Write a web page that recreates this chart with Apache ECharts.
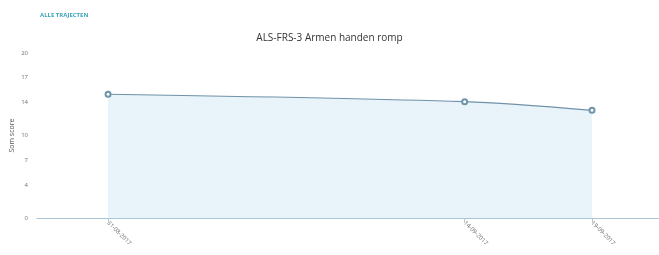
<!DOCTYPE html>
<html lang="nl">
<head>
    <meta charset="UTF-8">
    <title>ALS-FRS-3 Armen handen romp</title>
    <style>
        html, body { margin: 0; padding: 0; background: #fff; }
        #main { width: 659px; height: 255px; }
    </style>
</head>
<body>
    <div id="main"></div>
<script type="text/javascript" src="https://cdn.jsdelivr.net/npm/echarts@6/dist/echarts.min.js"></script>
<script type="text/javascript">
    // data
    var dates = ['2017-08-31', '2017-09-14', '2017-09-19'];
    var dateLabels = ['31-08-2017', '14-09-2017', '19-09-2017'];
    var scores = [15, 14.1, 13.05];
    var yTicks = [0, 4, 7, 10, 14, 17, 20];

    // x in days since the first measurement
    var DAY = 24 * 3600 * 1000;
    var t0 = +new Date(dates[0] + 'T00:00:00Z');
    var days = dates.map(function (d) { return Math.round((+new Date(d + 'T00:00:00Z') - t0) / DAY); });
    var seriesData = days.map(function (x, i) { return [x, scores[i]]; });

    var myChart = echarts.init(document.getElementById('main'));

    var option = {
        animation: false,
        title: [{
            text: 'ALS-FRS-3 Armen handen romp',
            left: 'center',
            top: 28,
            textStyle: { fontFamily: 'Open Sans', fontSize: 10, fontWeight: 'normal', color: '#333' }
        }, {
            text: 'ALLE TRAJECTEN',
            left: 35,
            top: 7,
            textStyle: { fontFamily: 'Open Sans', fontSize: 6, fontWeight: 'bold', color: '#3aa3b8' }
        }],
        grid: { left: 37, right: 0, top: 53, bottom: 37, containLabel: false, outerBoundsMode: 'none' },
        xAxis: {
            type: 'value',
            min: -2.79,
            max: 21.63,
            axisLine: { show: true, onZero: false, lineStyle: { color: '#a9c6da', width: 1 } },
            axisTick: { show: true, customValues: days, length: 5, lineStyle: { color: '#b5c8d6' } },
            axisLabel: {
                customValues: days,
                rotate: -45,
                fontSize: 6,
                color: '#6f6f6f',
                fontFamily: 'Open Sans',
                margin: 4,
                formatter: function (v) {
                    var i = days.indexOf(v);
                    return i >= 0 ? dateLabels[i] : '';
                }
            },
            splitLine: { show: false }
        },
        yAxis: {
            type: 'value',
            min: 0,
            max: 20,
            name: 'Som score',
            nameLocation: 'middle',
            nameGap: 25,
            nameMoveOverlap: false,
            nameTextStyle: { fontFamily: 'Open Sans', fontSize: 7, color: '#555', verticalAlign: 'middle' },
            axisLine: { show: false },
            axisTick: { show: false },
            axisLabel: { customValues: yTicks, fontSize: 6, color: '#6f6f6f', fontFamily: 'Open Sans', margin: 9 },
            splitLine: { show: false }
        },
        series: [{
            type: 'line',
            data: seriesData,
            smooth: 0.3,
            symbol: 'emptyCircle',
            symbolSize: 5,
            lineStyle: { color: '#6f93a8', width: 1.2 },
            itemStyle: { color: '#6f93a8', borderWidth: 1.2 },
            areaStyle: { color: '#e8f3fa', opacity: 1 }
        }]
    };
    myChart.setOption(option);
</script>
</body>
</html>
